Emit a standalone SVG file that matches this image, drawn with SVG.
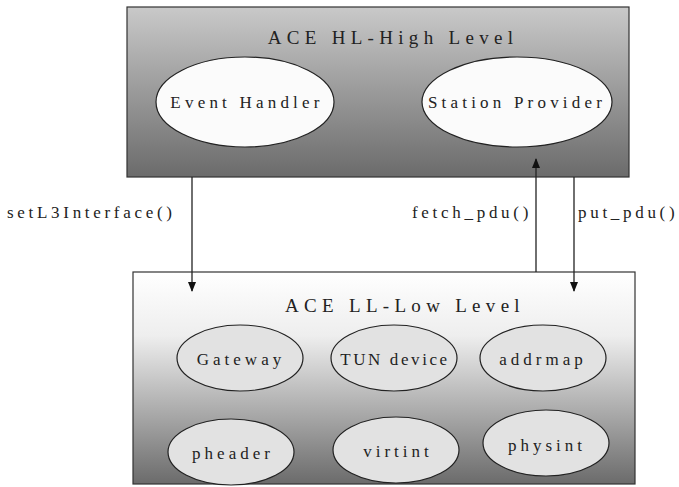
<svg xmlns="http://www.w3.org/2000/svg" width="679" height="487" viewBox="0 0 679 487">
  <defs>
    <linearGradient id="hlFill" x1="0" y1="0" x2="0" y2="1">
      <stop offset="0" stop-color="#c9c9c9"/>
      <stop offset="1" stop-color="#6b6b6b"/>
    </linearGradient>
    <linearGradient id="llFill" x1="0" y1="0" x2="0" y2="1">
      <stop offset="0" stop-color="#ffffff"/>
      <stop offset="0.3" stop-color="#eeeeee"/>
      <stop offset="1" stop-color="#6b6b6b"/>
    </linearGradient>
    <marker id="arrow" markerWidth="10" markerHeight="8" refX="9" refY="4" orient="auto" markerUnits="userSpaceOnUse">
      <path d="M0,0 L10,4 L0,8 Z" fill="#111"/>
    </marker>
  </defs>
  <style>
    .box { stroke: #333; stroke-width: 1.2; }
    .hlNode { fill: #fbfbfb; stroke: #222; stroke-width: 1.2; }
    .llNode { fill: #e2e2e2; stroke: #222; stroke-width: 1.2; }
    text { font-family: "Liberation Serif", "Times New Roman", serif; fill: #222; }
    .title { font-size: 19px; letter-spacing: 5.3px; text-anchor: middle; }
    .hlText { font-size: 17px; letter-spacing: 4.2px; text-anchor: middle; }
    .llText { font-size: 17px; letter-spacing: 4px; text-anchor: middle; }
    .label { font-size: 17px; letter-spacing: 3.7px; }
    .conn { stroke: #222; stroke-width: 1.3; fill: none; }
  </style>

  <!-- high level layer -->
  <g id="hl-layer">
    <rect class="box" x="127" y="7" width="502" height="170" fill="url(#hlFill)"/>
    <text class="title" x="393" y="44">ACE HL-High Level</text>
  </g>
  <g id="event-handler">
    <ellipse class="hlNode" cx="245" cy="102" rx="89" ry="45"/>
    <text class="hlText" x="247" y="108">Event Handler</text>
  </g>
  <g id="station-provider">
    <ellipse class="hlNode" cx="517" cy="102" rx="95" ry="45"/>
    <text class="hlText" x="517" y="108">Station Provider</text>
  </g>

  <!-- low level layer -->
  <g id="ll-layer">
    <rect class="box" x="133" y="272" width="502" height="212" fill="url(#llFill)"/>
    <text class="title" x="405" y="312">ACE LL-Low Level</text>
  </g>
  <g id="gateway">
    <ellipse class="llNode" cx="240" cy="358" rx="63" ry="33"/>
    <text class="llText" x="241" y="365">Gateway</text>
  </g>
  <g id="tun-device">
    <ellipse class="llNode" cx="394" cy="358" rx="63" ry="33"/>
    <text class="llText" x="395" y="365" style="letter-spacing:2.6px">TUN device</text>
  </g>
  <g id="addrmap">
    <ellipse class="llNode" cx="543" cy="358" rx="63" ry="33"/>
    <text class="llText" x="543" y="365">addrmap</text>
  </g>
  <g id="pheader">
    <ellipse class="llNode" cx="231" cy="452" rx="63" ry="33"/>
    <text class="llText" x="233" y="459">pheader</text>
  </g>
  <g id="virtint">
    <ellipse class="llNode" cx="396" cy="450" rx="63" ry="33"/>
    <text class="llText" x="398" y="457">virtint</text>
  </g>
  <g id="physint">
    <ellipse class="llNode" cx="546" cy="443" rx="63" ry="33"/>
    <text class="llText" x="547" y="451">physint</text>
  </g>

  <!-- interface calls between layers -->
  <g id="connectors">
    <line class="conn" x1="192" y1="177" x2="192" y2="291" marker-end="url(#arrow)"/>
    <line class="conn" x1="536" y1="272" x2="536" y2="159" marker-end="url(#arrow)"/>
    <line class="conn" x1="574" y1="177" x2="574" y2="291" marker-end="url(#arrow)"/>
    <text class="label" x="7" y="218">setL3Interface()</text>
    <text class="label" x="412" y="218">fetch_pdu()</text>
    <text class="label" x="578" y="218">put_pdu()</text>
  </g>
</svg>
